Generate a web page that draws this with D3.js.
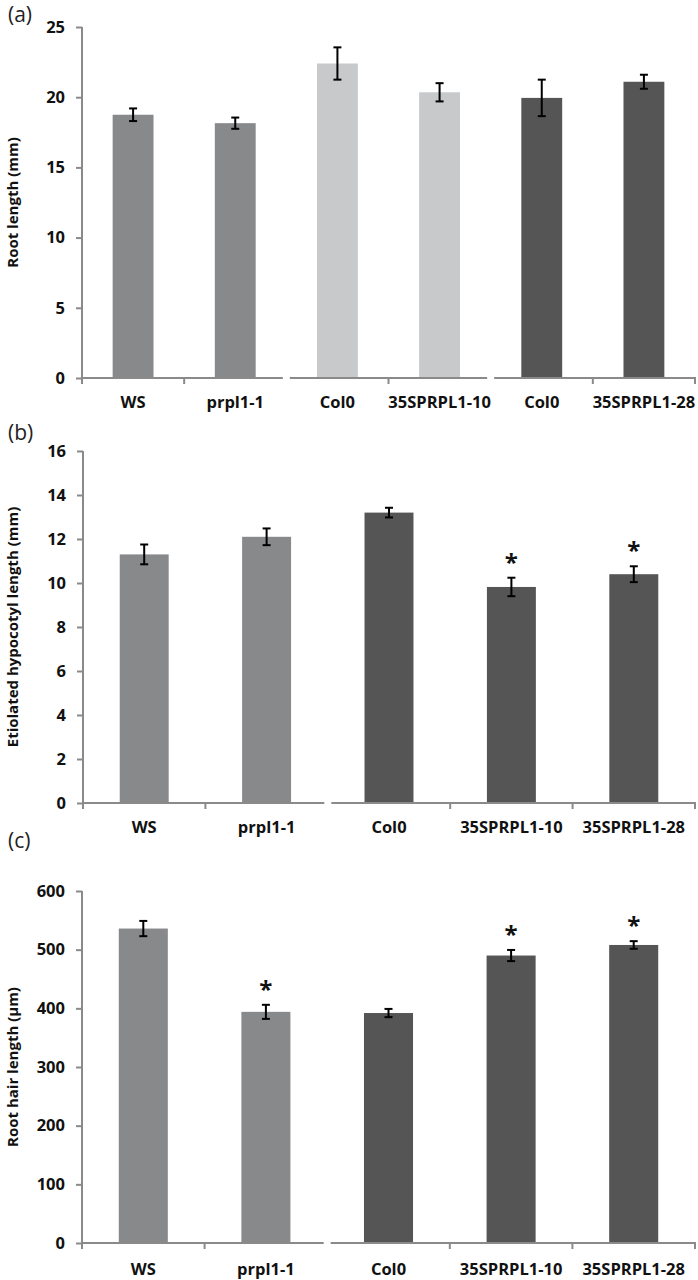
<!DOCTYPE html>
<html>
<head>
<meta charset="utf-8">
<script src="https://cdn.jsdelivr.net/npm/d3@7"></script>
<style>
  html, body { margin: 0; padding: 0; background: #fff; }
  svg { display: block; }
  text { font-family: "Open Sans", "Lato", sans-serif; }
</style>
</head>
<body>
<svg id="chart" width="698" height="1280"></svg>
<script>
// ---------- data ----------
// Panel (a): root length (mm)
const categoriesA = ["WS", "prpl1-1", "Col0", "35SPRPL1-10", "Col0", "35SPRPL1-28"];
const rootLength = [18.75, 18.15, 22.4, 20.35, 19.95, 21.1];
const rootLengthErr = [0.45, 0.4, 1.15, 0.65, 1.3, 0.5];
const shadeA = ["mid", "mid", "light", "light", "dark", "dark"];
const groupsA = [[0, 1], [2, 3], [4, 5]];
const ticksA = [0, 5, 10, 15, 20, 25];

// Panel (b): etiolated hypocotyl length (mm)
const categoriesB = ["WS", "prpl1-1", "Col0", "35SPRPL1-10", "35SPRPL1-28"];
const hypocotylLength = [11.3, 12.1, 13.2, 9.82, 10.4];
const hypocotylErr = [0.45, 0.38, 0.22, 0.42, 0.36];
const sigB = [false, false, false, true, true];
const shadeB = ["mid", "mid", "dark", "dark", "dark"];
const groupsB = [[0, 1], [2, 3, 4]];
const ticksB = [0, 2, 4, 6, 8, 10, 12, 14, 16];

// Panel (c): root hair length (µm)
const categoriesC = ["WS", "prpl1-1", "Col0", "35SPRPL1-10", "35SPRPL1-28"];
const rootHairLength = [536, 394, 392, 490, 508];
const rootHairErr = [13, 12, 7, 9.5, 6.5];
const sigC = [false, true, false, true, true];
const shadeC = ["mid", "mid", "dark", "dark", "dark"];
const groupsC = [[0, 1], [2, 3, 4]];
const ticksC = [0, 100, 200, 300, 400, 500, 600];

// ---------- styling ----------
const palette = { mid: "#88898b", light: "#c8c9cb", dark: "#555556" };
const axisColor = "#8a8a8a";
const svg = d3.select("#chart");

function drawPanel(cfg) {
  const g = svg.append("g");
  const x = d3.scaleBand()
    .domain(d3.range(cfg.categories.length))
    .range([cfg.left, cfg.right])
    .paddingInner(0.6).paddingOuter(0.3);
  const step = x.step();
  const x0 = cfg.left;
  const y = d3.scaleLinear().domain([cfg.ticks[0], cfg.ticks[cfg.ticks.length - 1]])
    .range([cfg.bottom, cfg.top]);

  // bars
  g.selectAll("rect.bar").data(cfg.values).join("rect")
    .attr("x", (d, i) => x(i))
    .attr("y", d => y(d))
    .attr("width", x.bandwidth())
    .attr("height", d => y(0) - y(d))
    .attr("fill", (d, i) => palette[cfg.shade[i]]);

  // error bars
  const cap = 4;
  cfg.values.forEach((v, i) => {
    const cx = x(i) + x.bandwidth() / 2;
    const e = cfg.errors[i];
    const eg = g.append("g").attr("stroke", "#000").attr("stroke-width", 2);
    eg.append("line").attr("x1", cx).attr("x2", cx).attr("y1", y(v + e)).attr("y2", y(v - e));
    eg.append("line").attr("x1", cx - cap).attr("x2", cx + cap).attr("y1", y(v + e)).attr("y2", y(v + e));
    eg.append("line").attr("x1", cx - cap).attr("x2", cx + cap).attr("y1", y(v - e)).attr("y2", y(v - e));
    if (cfg.sig && cfg.sig[i]) {
      g.append("text").attr("x", cx).attr("y", y(v + e) - 7)
        .attr("text-anchor", "middle").attr("font-size", 24).attr("font-weight", 700)
        .attr("fill", "#111").text("*");
    }
  });

  // y axis
  const yAxis = d3.axisLeft(y).tickValues(cfg.ticks).tickSize(6).tickPadding(11);
  const ya = g.append("g").attr("transform", `translate(${cfg.left},0)`).call(yAxis);
  ya.select(".domain").attr("stroke", axisColor).attr("stroke-width", 2)
    .attr("d", `M0,${cfg.bottom + 6}V${cfg.top}`);
  ya.selectAll(".tick line").attr("stroke", axisColor).attr("stroke-width", 2);
  ya.selectAll(".tick text").attr("font-size", 16.5).attr("font-weight", 700)
    .attr("fill", "#111").style("font-family", "'Open Sans', sans-serif");

  // x axis: broken into groups
  const gap = 3.5;
  const xa = g.append("g").attr("stroke", axisColor).attr("stroke-width", 2);
  cfg.groups.forEach((grp, gi) => {
    const start = x0 + grp[0] * step + (gi === 0 ? -1 : gap);
    const end = x0 + (grp[grp.length - 1] + 1) * step - (gi === cfg.groups.length - 1 ? -1 : gap);
    xa.append("line").attr("x1", start).attr("x2", end).attr("y1", cfg.bottom).attr("y2", cfg.bottom);
    for (let k = 1; k < grp.length; k++) {
      const tx = x0 + (grp[0] + k) * step;
      xa.append("line").attr("x1", tx).attr("x2", tx).attr("y1", cfg.bottom).attr("y2", cfg.bottom + 6);
    }
    if (gi === cfg.groups.length - 1) {
      xa.append("line").attr("x1", end - 1).attr("x2", end - 1).attr("y1", cfg.bottom).attr("y2", cfg.bottom + 6);
    }
  });

  // x labels
  g.selectAll("text.xl").data(cfg.categories).join("text")
    .attr("class", "xl")
    .attr("x", (d, i) => x(i) + x.bandwidth() / 2)
    .attr("y", cfg.bottom + cfg.labelOffset)
    .attr("text-anchor", "middle").attr("font-size", 16.5).attr("font-weight", 700)
    .attr("fill", "#111").text(d => d);

  // y title
  g.append("text")
    .attr("transform", `translate(${cfg.titleX},${(cfg.top + cfg.bottom) / 2}) rotate(-90)`)
    .attr("text-anchor", "middle").attr("font-size", cfg.titleSize).attr("font-weight", 700)
    .attr("fill", "#111").text(cfg.title);

  // panel label
  g.append("text").attr("x", 8).attr("y", cfg.panelY)
    .attr("font-size", 21).attr("fill", "#222").text(cfg.panel);
}

drawPanel({
  categories: categoriesA, values: rootLength, errors: rootLengthErr, shade: shadeA,
  groups: groupsA, ticks: ticksA, left: 82, right: 695, top: 27, bottom: 378,
  labelOffset: 30, title: "Root length (mm)", titleSize: 15, titleX: 18, panel: "(a)", panelY: 22
});
drawPanel({
  categories: categoriesB, values: hypocotylLength, errors: hypocotylErr, sig: sigB, shade: shadeB,
  groups: groupsB, ticks: ticksB, left: 83, right: 695, top: 451, bottom: 803,
  labelOffset: 30, title: "Etiolated hypocotyl length (mm)", titleSize: 15, titleX: 18, panel: "(b)", panelY: 440
});
drawPanel({
  categories: categoriesC, values: rootHairLength, errors: rootHairErr, sig: sigC, shade: shadeC,
  groups: groupsC, ticks: ticksC, left: 82, right: 695, top: 891, bottom: 1243,
  labelOffset: 32, title: "Root hair length (µm)", titleSize: 15, titleX: 18, panel: "(c)", panelY: 848
});
</script>
</body>
</html>
